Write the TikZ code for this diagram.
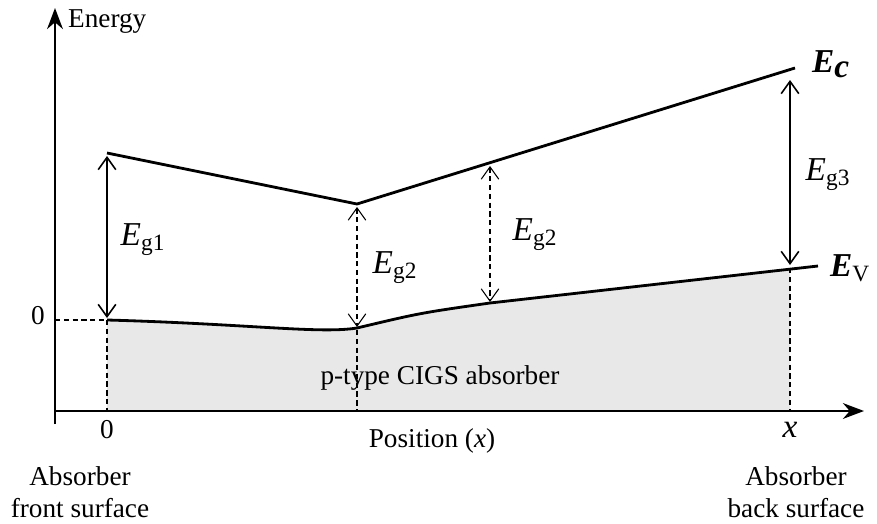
\documentclass[tikz,border=0pt]{standalone}
\usepackage{fontspec}
\setmainfont{Liberation Serif}
\usetikzlibrary{arrows.meta}
\begin{document}
\begin{tikzpicture}[x=0.02cm,y=-0.02cm,
  band/.style={line width=1.6pt},
  gap/.style={line width=0.9pt,{Straight Barb[length=7pt,width=10pt]}-{Straight Barb[length=7pt,width=10pt]}},
  dsh/.style={dash pattern=on 3pt off 2pt,line width=0.6pt},
  lbl/.style={font=\fontsize{19}{21}\selectfont},
  txt/.style={font=\fontsize{15.5}{18}\selectfont}]
\useasboundingbox (0,0) rectangle (877,524);
% fill
\fill[gray!18] (107,320) .. controls (250,324) and (320,334) .. (357,328) .. controls (420,313) .. (490,303) -- (790,269) -- (790,411) -- (107,411) -- cycle;
% axes
\coordinate (o) at (55,411);
\coordinate (ytop) at (55,8);
\coordinate (xend) at (864,411);
\draw[line width=1.2pt,-{Stealth[length=12pt,width=9pt]}] (55,424) -- (ytop);
\draw[line width=1.2pt,-{Stealth[length=12pt,width=9pt]}] (55,411) -- (xend);
\node[txt,anchor=west] (en) at (62,22) {Energy};
% bands
\coordinate (c1) at (107,153); \coordinate (c2) at (357,204); \coordinate (c3) at (795,68);
\draw[band] (c1) -- (c2) -- (c3);
\coordinate (v1) at (107,320); \coordinate (v2) at (357,328); \coordinate (v3) at (490,303); \coordinate (v4) at (818,266);
\draw[band] (v1) .. controls (250,324) and (320,334) .. (v2) .. controls (420,313) .. (v3) -- (v4);
\node[lbl,anchor=west] (ec) at (806,64) {\textbf{\textit{E}}$_{\textbf{\textit{c}}}$};
\node[lbl,anchor=west] (ev) at (824,268) {\textbf{\textit{E}}$_{\mathrm{V}}$};
% dashed
\coordinate (z) at (55,320);
\draw[dsh] (z) -- (v1);
\node[txt] (zero) at (38,316) {0};
\draw[dsh] (107,320) -- (107,411);
\draw[dsh] (357,330) -- (357,411);
\draw[dsh] (790,268) -- (790,411);
% gaps
\draw[gap] (107,156) -- (107,318);
\node[lbl] (g1) at (143,240) {\textit{E}$_{\mathrm{g1}}$};
\draw[gap,dsh] (357,207) -- (357,327);
\node[lbl] (g2a) at (395,268) {\textit{E}$_{\mathrm{g2}}$};
\draw[gap,dsh] (490,166) -- (490,302);
\node[lbl] (g2b) at (535,235) {\textit{E}$_{\mathrm{g2}}$};
\draw[gap] (790,80) -- (790,265);
\node[lbl] (g3) at (828,175) {\textit{E}$_{\mathrm{g3}}$};
% texts
\node[txt] (cigs) at (440,378) {p-type CIGS absorber};
\node[txt] (x0) at (107,430) {0};
\node[txt] (pos) at (432,441) {Position (\textit{x})};
\node[lbl] (xx) at (790,430) {\textit{x}};
\node[txt,align=center] (fs) at (80,492) {Absorber\\front surface};
\node[txt,align=center] (bs) at (796,492) {Absorber\\back surface};
\end{tikzpicture}
\end{document}
